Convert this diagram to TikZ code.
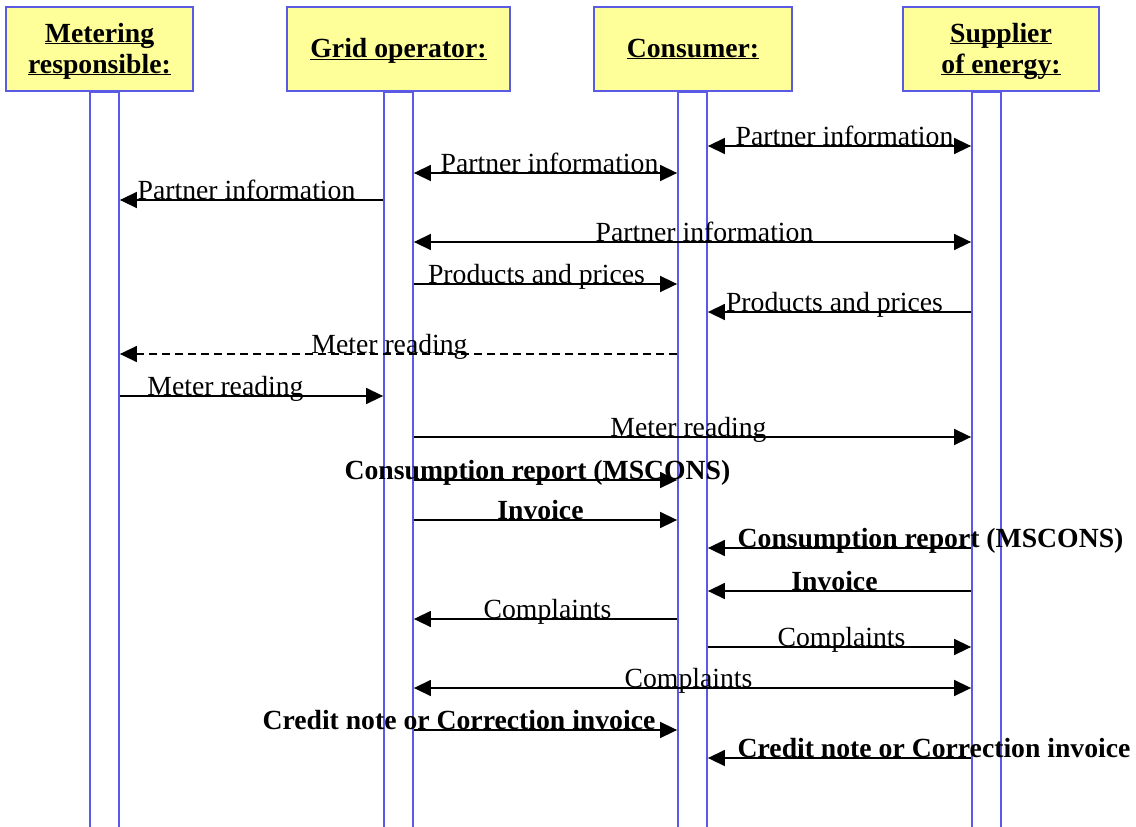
\documentclass[tikz,border=0pt]{standalone}
\usepackage{fontspec}
\setmainfont{Liberation Serif}
\usetikzlibrary{arrows.meta,positioning}
\definecolor{lifeblue}{RGB}{90,90,228}
\definecolor{headyellow}{RGB}{255,255,153}
\newcommand{\msgfont}{\fontsize{27.7pt}{31pt}\selectfont}
\newcommand{\hdfont}{\fontsize{27.7pt}{31pt}\selectfont\bfseries}

\begin{document}
\begin{tikzpicture}[x=1pt,y=-1pt,>=Triangle,
  head/.style={draw=lifeblue,line width=1.8pt,fill=headyellow,minimum height=84pt,inner sep=0pt,align=center,font=\hdfont},
  life/.style={draw=lifeblue,line width=1.8pt,minimum width=29pt,minimum height=737pt,inner sep=0pt,anchor=north},
  msg/.style={line width=1.5pt,-{Triangle[length=17pt,width=16pt]}},
  both/.style={line width=1.5pt,{Triangle[length=17pt,width=16pt]}-{Triangle[length=17pt,width=16pt]}},
  lbl/.style={anchor=base,inner sep=0pt,yshift=1pt,font=\msgfont},
  blbl/.style={lbl,font=\msgfont\bfseries}]
\useasboundingbox (0,0) rectangle (1136,827);
% lifelines
\node[life] (lmtr) at (104.5,91) {};
\node[life] (lgrid) at (398.5,91) {};
\node[life] (lcons) at (692.5,91) {};
\node[life] (lsupp) at (986.5,91) {};
% actors
\node[head,minimum width=187pt] (mtr) at (99.5,49) {\underbar{Metering}\\\underbar{responsible:}};
\node[head,minimum width=223pt] (grid) at (398.5,49) {\underbar{Grid operator:}};
\node[head,minimum width=198pt] (cons) at (693,49) {\underbar{Consumer:}};
\node[head,minimum width=196pt] (supp) at (1001,49) {\underbar{Supplier}\\\underbar{of energy:}};
% messages
\draw[both] (lcons.east |- 0,146) -- (lsupp.west |- 0,146) node[lbl,midway,xshift=5pt] {Partner information};
\draw[both] (lgrid.east |- 0,173) -- (lcons.west |- 0,173) node[lbl,midway,xshift=4pt] {Partner information};
\draw[msg] (lgrid.west |- 0,200) -- (lmtr.east |- 0,200) node[lbl,midway,xshift=-5pt] {Partner information};
\draw[both] (lgrid.east |- 0,242) -- (lsupp.west |- 0,242) node[lbl,midway,xshift=12pt] {Partner information};
\draw[msg] (lgrid.east |- 0,284) -- (lcons.west |- 0,284) node[lbl,midway,xshift=-9pt] {Products and prices};
\draw[msg] (lsupp.west |- 0,312) -- (lcons.east |- 0,312) node[lbl,midway,xshift=-5pt] {Products and prices};
\draw[msg,dash pattern=on 8pt off 5pt] (lcons.west |- 0,354) -- (lmtr.east |- 0,354) node[lbl,midway,xshift=-9pt] {Meter reading};
\draw[msg] (lmtr.east |- 0,396) -- (lgrid.west |- 0,396) node[lbl,midway,xshift=-26pt] {Meter reading};
\draw[msg] (lgrid.east |- 0,437) -- (lsupp.west |- 0,437) node[lbl,midway,xshift=-4pt] {Meter reading};
\draw[msg] (lgrid.east |- 0,480) -- (lcons.west |- 0,480) node[blbl,midway,xshift=-8pt] {Consumption report (MSCONS)};
\draw[msg] (lgrid.east |- 0,520) -- (lcons.west |- 0,520) node[blbl,midway,xshift=-5pt] {Invoice};
\draw[msg] (lsupp.west |- 0,548) -- (lcons.east |- 0,548) node[blbl,pos=1,anchor=base west,xshift=29pt] {Consumption report (MSCONS)};
\draw[msg] (lsupp.west |- 0,591) -- (lcons.east |- 0,591) node[blbl,midway,xshift=-5pt] {Invoice};
\draw[msg] (lcons.west |- 0,619) -- (lgrid.east |- 0,619) node[lbl,midway,xshift=2pt] {Complaints};
\draw[msg] (lcons.east |- 0,647) -- (lsupp.west |- 0,647) node[lbl,midway,xshift=2pt] {Complaints};
\draw[both] (lgrid.east |- 0,688) -- (lsupp.west |- 0,688) node[lbl,midway,xshift=-4pt] {Complaints};
\draw[msg] (lgrid.east |- 0,730) -- (lcons.west |- 0,730) node[blbl,pos=1,anchor=base east,xshift=-21pt] {Credit note or Correction invoice};
\draw[msg] (lsupp.west |- 0,758) -- (lcons.east |- 0,758) node[blbl,pos=1,anchor=base west,xshift=29pt] {Credit note or Correction invoice};
\end{tikzpicture}
\end{document}
